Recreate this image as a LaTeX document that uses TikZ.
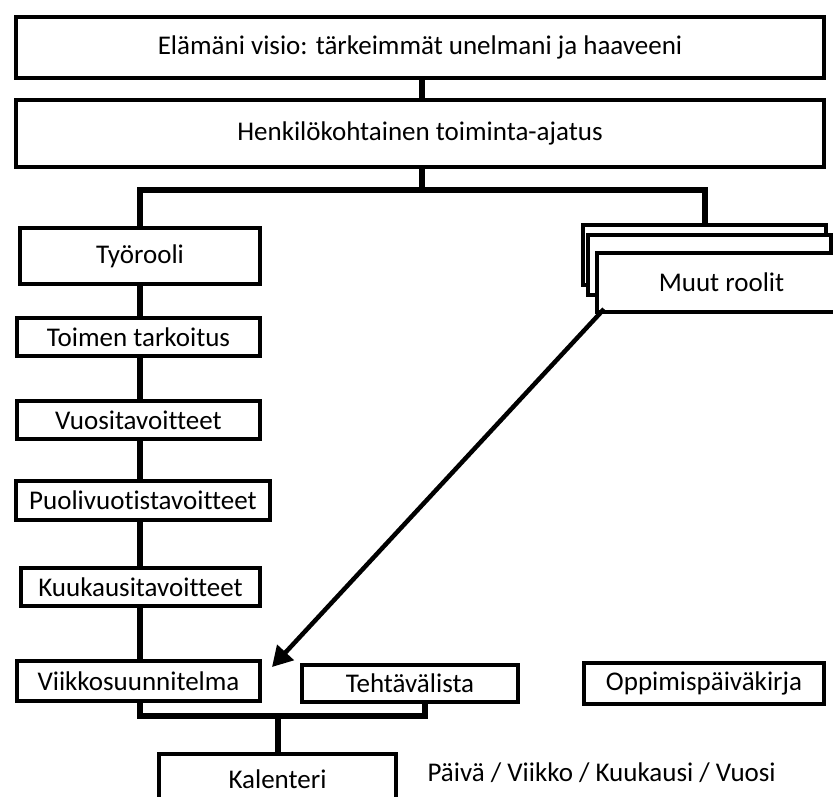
\documentclass[tikz,border=0pt]{standalone}
\usepackage{fontspec}
\setmainfont[Ligatures=NoCommon]{Carlito}
\usetikzlibrary{arrows.meta,calc}
\begin{document}
\begin{tikzpicture}[x=1pt,y=-1pt,
  box/.style={draw=black,line width=4pt,fill=white,inner sep=0pt,align=center,font=\fontsize{27}{30}\selectfont},
  conn/.style={draw=black,line width=6pt},
  arr/.style={draw=black,line width=4.5pt,-{Triangle[length=20pt,width=22pt]}}]
\useasboundingbox (0,0) rectangle (833,796);
\fill[white] (0,0) rectangle (833,796);
% top boxes
\node[box,minimum width=808pt,minimum height=61pt] (vis) at (420,47.5) {Elämäni visio: tärkeimmät unelmani ja haaveeni};
\node[box,minimum width=808pt,minimum height=67pt] (hen) at (420,133.5) {Henkilökohtainen toiminta-ajatus};
% other roles stack
\node[box,minimum width=243pt,minimum height=60pt] (mb1) at (704.5,255) {};
\node[box,minimum width=243pt,minimum height=60pt] (mb2) at (709.5,265) {};
\node[box,minimum width=241pt,minimum height=59pt] (mu) at (717.5,282.5) {\hspace*{4pt}Muut roolit\hspace*{-4pt}};
% left column
\node[box,minimum width=240pt,minimum height=56pt] (tyo) at (140,256) {Työrooli};
\node[box,minimum width=243pt,minimum height=38pt] (toi) at (138.5,337) {Toimen tarkoitus};
\node[box,minimum width=243pt,minimum height=38pt] (vuo) at (138.5,420) {Vuositavoitteet};
\node[box,minimum width=254pt,minimum height=39pt] (puo) at (143,500.5) {Puolivuotistavoitteet};
\node[box,minimum width=239pt,minimum height=38pt] (kuu) at (140.5,587) {Kuukausitavoitteet};
\node[box,minimum width=243pt,minimum height=40pt] (vii) at (138.5,681) {Viikkosuunnitelma};
\node[box,minimum width=216pt,minimum height=37pt] (teh) at (410,683.5) {Tehtävälista};
\node[box,minimum width=240pt,minimum height=41pt] (opp) at (704,683.5) {Oppimispäiväkirja};
\node[box,minimum width=237pt,minimum height=50pt] (kal) at (277.5,779) {Kalenteri};
\node[font=\fontsize{27}{30}\selectfont,anchor=west] (pv) at (424,773) {Päivä / Viikko / Kuukausi / Vuosi};
% connectors
\coordinate (j1) at (422,190);
\coordinate (cx) at (140,0);
\draw[conn] (vis.south -| j1) -- (hen.north -| j1);
\draw[conn] (hen.south -| j1) -- (j1);
\draw[conn] (tyo.north -| cx) |- (j1) -| (mb1.north);
\draw[conn] (tyo.south -| cx) -- (toi.north -| cx);
\draw[conn] (toi.south -| cx) -- (vuo.north -| cx);
\draw[conn] (vuo.south -| cx) -- (puo.north -| cx);
\draw[conn] (puo.south -| cx) -- (kuu.north -| cx);
\draw[conn] (kuu.south -| cx) -- (vii.north -| cx);
\coordinate (bj) at (kal.north |- 0,716);
\coordinate (tx) at (425,0);
\draw[conn] (vii.south -| cx) |- (bj) -| (teh.south -| tx);
\draw[conn] (bj) -- (kal.north);
\draw[arr] ([xshift=9pt,yshift=5pt]mu.south west) -- ([xshift=10pt,yshift=-8pt]vii.north east);
\end{tikzpicture}
\end{document}
